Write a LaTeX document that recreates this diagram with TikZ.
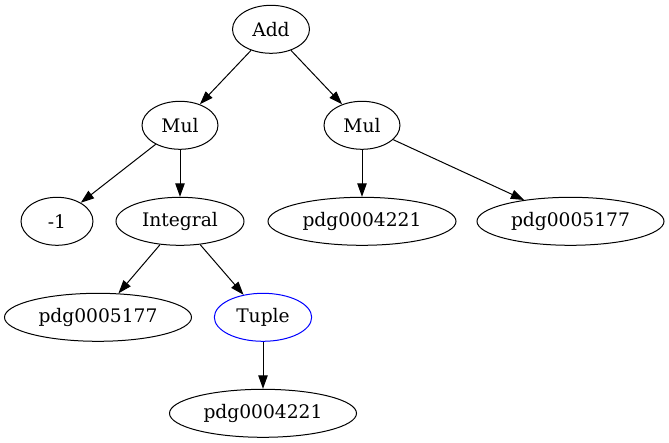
\documentclass[tikz,border=0pt]{standalone}
\usepackage{fontspec}
\setmainfont{DejaVu Serif}
\usetikzlibrary{arrows.meta,shapes.geometric}
\begin{document}
\begin{tikzpicture}[x=0.75pt,y=-0.75pt,
  gnode/.style={ellipse,draw,line width=0.75pt,inner sep=0pt,minimum height=36pt,font=\fontsize{14pt}{16pt}\selectfont},
  edge/.style={line width=0.75pt,-{Triangle[length=10pt,width=7pt]}}]
\useasboundingbox (0,0) rectangle (669,443);
\node[gnode,minimum width=57.75pt] (add) at (271,29.3) {Add};
\node[gnode,minimum width=57pt] (mul1) at (180,125.3) {Mul};
\node[gnode,minimum width=57pt] (mul2) at (362,125.3) {Mul};
\node[gnode,minimum width=54pt] (m1) at (57,221.3) {-1};
\node[gnode,minimum width=96pt] (int) at (180,221.3) {Integral};
\node[gnode,minimum width=141pt] (p1) at (362,221.3) {pdg0004221};
\node[gnode,minimum width=140.25pt] (p2) at (570.5,221.3) {pdg0005177};
\node[gnode,minimum width=140.25pt] (p3) at (98,317.3) {pdg0005177};
\node[gnode,draw=blue,minimum width=73pt] (tup) at (263,317.3) {Tuple};
\node[gnode,minimum width=140.25pt] (p4) at (263,413.3) {pdg0004221};
\draw[edge] (add) -- (mul1);
\draw[edge] (add) -- (mul2);
\draw[edge] (mul1) -- (m1);
\draw[edge] (mul1) -- (int);
\draw[edge] (mul2) -- (p1);
\draw[edge] (mul2) -- (p2);
\draw[edge] (int) -- (p3);
\draw[edge] (int) -- (tup);
\draw[edge] (tup) -- (p4);
\end{tikzpicture}
\end{document}
